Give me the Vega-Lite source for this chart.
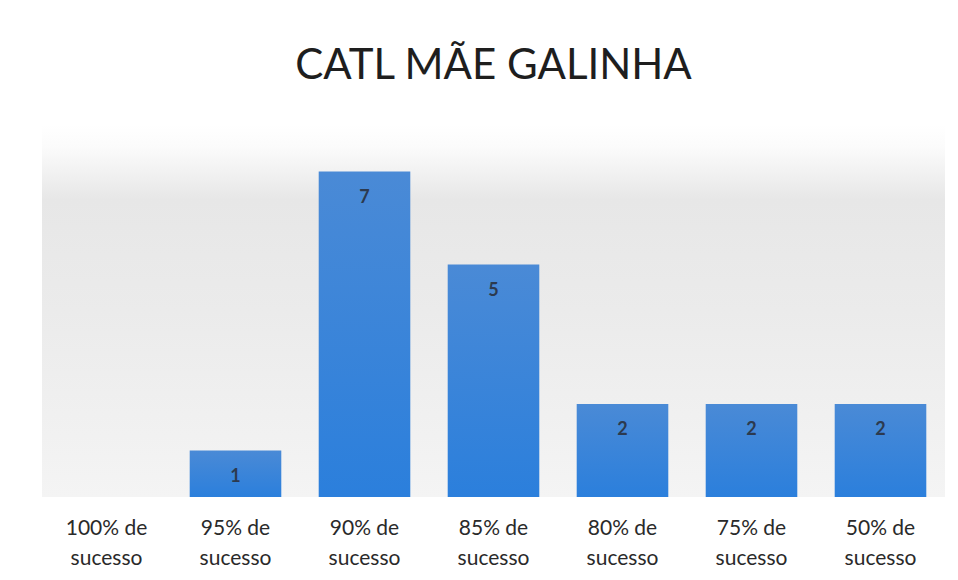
{
  "$schema": "https://vega.github.io/schema/vega-lite/v6.json",
  "width": 903,
  "height": 372,
  "autosize": "none",
  "padding": {"left": 42, "top": 125, "right": 13, "bottom": 83},
  "background": "#ffffff",
  "title": {
    "text": "CATL MÃE GALINHA",
    "font": "Lato",
    "fontSize": 42,
    "fontWeight": "normal",
    "color": "#1e1e1e",
    "anchor": "middle",
    "offset": -5,
    "baseline": "bottom"
  },
  "data": {
    "values": [
      {"categoria": "100% de sucesso", "alunos": 0},
      {"categoria": "95% de sucesso", "alunos": 1},
      {"categoria": "90% de sucesso", "alunos": 7},
      {"categoria": "85% de sucesso", "alunos": 5},
      {"categoria": "80% de sucesso", "alunos": 2},
      {"categoria": "75% de sucesso", "alunos": 2},
      {"categoria": "50% de sucesso", "alunos": 2}
    ]
  },
  "layer": [
    {
      "data": {"values": [{"lo": 0, "hi": 8}]},
      "mark": {
        "type": "rect",
        "fill": {
          "gradient": "linear",
          "x1": 0, "y1": 0, "x2": 0, "y2": 1,
          "stops": [
            {"offset": 0, "color": "#ffffff"},
            {"offset": 0.06, "color": "#fbfbfb"},
            {"offset": 0.2, "color": "#e7e7e7"},
            {"offset": 0.5, "color": "#ebebeb"},
            {"offset": 1, "color": "#f4f4f4"}
          ]
        }
      },
      "encoding": {
        "y": {"field": "hi", "type": "quantitative", "scale": {"domain": [0, 8], "nice": false}, "axis": null},
        "y2": {"field": "lo"}
      }
    },
    {
      "mark": {
        "type": "bar",
        "fill": {
          "gradient": "linear",
          "x1": 0, "y1": 0, "x2": 0, "y2": 1,
          "stops": [
            {"offset": 0, "color": "#4a8ad6"},
            {"offset": 1, "color": "#2b7fdc"}
          ]
        }
      },
      "encoding": {
        "x": {
          "field": "categoria",
          "type": "nominal",
          "sort": null,
          "scale": {"paddingInner": 0.29, "paddingOuter": 0.145},
          "axis": {
            "title": null,
            "domain": false,
            "ticks": false,
            "labelAngle": 0,
            "labelFont": "Lato",
            "labelFontSize": 21,
            "labelColor": "#2a2a2a",
            "labelLineHeight": 30,
            "labelPadding": 20,
            "labelExpr": "[replace(datum.label, ' sucesso', ''), 'sucesso']"
          }
        },
        "y": {
          "field": "alunos",
          "type": "quantitative",
          "scale": {"domain": [0, 8], "nice": false},
          "axis": null
        }
      }
    },
    {
      "transform": [{"filter": "datum.alunos > 0"}],
      "mark": {
        "type": "text",
        "font": "Lato",
        "fontSize": 18,
        "fontWeight": "bold",
        "color": "#2c3a4f",
        "baseline": "middle",
        "dy": 26
      },
      "encoding": {
        "x": {"field": "categoria", "type": "nominal", "sort": null},
        "y": {"field": "alunos", "type": "quantitative"},
        "text": {"field": "alunos", "type": "quantitative"}
      }
    }
  ],
  "config": {"view": {"stroke": null}}
}
